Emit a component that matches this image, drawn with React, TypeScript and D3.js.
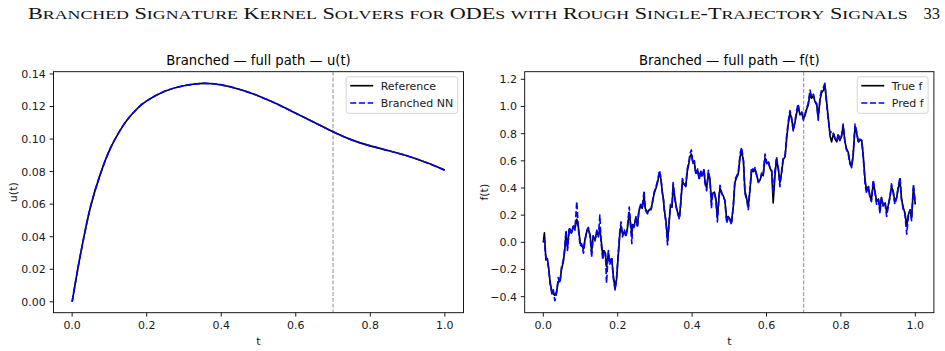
import React, { useEffect, useRef } from 'react';
import * as d3 from 'd3';

// page header
const headerTitle = 'Branched Signature Kernel Solvers for ODEs with Rough Single-Trajectory Signals';
const pageNumber = '33';

// u(t) over the full path
const uTimes = [0, 0.015, 0.03, 0.05, 0.075, 0.1, 0.125, 0.15, 0.175, 0.2, 0.25, 0.3, 0.35, 0.4, 0.45, 0.5, 0.55, 0.6, 0.65, 0.7, 0.75, 0.8, 0.85, 0.9, 0.95, 1.0];
const uReference = [0, 0.02, 0.038, 0.059, 0.078, 0.093, 0.104, 0.1125, 0.1188, 0.1235, 0.1295, 0.1328, 0.1342, 0.1333, 0.1305, 0.1265, 0.1215, 0.1158, 0.1102, 0.1045, 0.0995, 0.0958, 0.0928, 0.0896, 0.0856, 0.081];
const uBranched = [0, 0.02, 0.038, 0.059, 0.078, 0.093, 0.104, 0.1125, 0.1188, 0.1235, 0.1295, 0.1328, 0.1342, 0.1333, 0.1305, 0.1265, 0.1215, 0.1158, 0.1102, 0.1045, 0.0995, 0.0958, 0.0928, 0.0896, 0.0856, 0.0808];
const uTicks = [0, 0.02, 0.04, 0.06, 0.08, 0.10, 0.12, 0.14];

// f(t) driving signal, true vs predicted
const fTimes = [
  0.000, 0.003, 0.005, 0.007, 0.011, 0.015, 0.018, 0.023, 0.027, 0.031, 0.036, 0.040, 0.045, 0.049, 0.054, 0.058, 0.061, 0.065, 0.070, 0.076,
  0.081, 0.085, 0.090, 0.094, 0.099, 0.103, 0.108, 0.112, 0.117, 0.121, 0.126, 0.130, 0.134, 0.139, 0.144, 0.148, 0.152, 0.155, 0.160, 0.163,
  0.167, 0.170, 0.175, 0.179, 0.184, 0.188, 0.193, 0.197, 0.202, 0.206, 0.209, 0.213, 0.218, 0.222, 0.226, 0.231,
  0.238, 0.240, 0.244, 0.249, 0.253, 0.257, 0.262, 0.266, 0.271, 0.274, 0.280, 0.285, 0.290, 0.294, 0.298, 0.303, 0.308, 0.312, 0.316, 0.320,
  0.323, 0.325, 0.330, 0.334, 0.339, 0.342, 0.346, 0.349, 0.353, 0.357, 0.361, 0.366, 0.369, 0.374, 0.378, 0.383, 0.387, 0.392, 0.394, 0.398,
  0.402, 0.406, 0.410, 0.415, 0.419, 0.423, 0.427, 0.432, 0.435, 0.439, 0.444, 0.448, 0.452, 0.455, 0.460, 0.464, 0.468, 0.472, 0.475, 0.480,
  0.484, 0.488, 0.493, 0.497, 0.502, 0.506,
  0.511, 0.515, 0.520, 0.524, 0.529, 0.533, 0.538, 0.542, 0.547, 0.551, 0.556, 0.560, 0.565, 0.569, 0.574, 0.578, 0.583, 0.587, 0.591, 0.596,
  0.601, 0.605, 0.609, 0.614, 0.618, 0.623, 0.627, 0.632, 0.636, 0.641, 0.645, 0.650, 0.654, 0.659, 0.663, 0.667, 0.672, 0.677, 0.681, 0.685,
  0.690, 0.695, 0.699, 0.703, 0.708, 0.712, 0.717, 0.721, 0.726, 0.730, 0.735, 0.739, 0.744, 0.748, 0.753, 0.757, 0.761, 0.766, 0.771,
  0.775, 0.780, 0.784, 0.789, 0.793, 0.797, 0.802, 0.806, 0.811, 0.815, 0.820, 0.824, 0.829, 0.833, 0.838, 0.842, 0.847, 0.851, 0.856, 0.860,
  0.865, 0.869, 0.874, 0.878, 0.882, 0.887, 0.892, 0.896, 0.901, 0.905, 0.909, 0.914, 0.919, 0.923, 0.927, 0.932, 0.936, 0.941, 0.945, 0.950,
  0.954, 0.959, 0.963, 0.968, 0.972, 0.977, 0.981, 0.986, 0.990, 0.995, 1.000,
];
const fTrue = [
  0.00, 0.07, -0.03, -0.13, -0.12, -0.20, -0.29, -0.36, -0.38, -0.39, -0.36, -0.29, -0.28, -0.20, -0.14, -0.05, 0.07, -0.04, 0.10, 0.07,
  0.12, 0.10, 0.17, 0.12, 0.00, -0.02, -0.05, 0.02, 0.08, 0.10, 0.05, -0.07, 0.04, 0.02, 0.08, 0.05, 0.10, 0.03, -0.10, -0.06,
  -0.09, -0.18, -0.08, -0.14, -0.12, -0.24, -0.34, -0.27, -0.08, 0.07, 0.12, 0.06, 0.08, 0.05, 0.10, 0.22,
  0.06, 0.13, 0.12, 0.18, 0.12, 0.23, 0.27, 0.25, 0.34, 0.25, 0.22, 0.24, 0.25, 0.30, 0.36, 0.40, 0.45, 0.51, 0.47, 0.37,
  0.32, 0.25, 0.15, 0.01, 0.17, 0.27, 0.26, 0.42, 0.34, 0.27, 0.22, 0.19, 0.27, 0.45, 0.43, 0.41, 0.52, 0.59, 0.63, 0.65,
  0.59, 0.59, 0.51, 0.53, 0.47, 0.52, 0.49, 0.53, 0.44, 0.40, 0.51, 0.46, 0.30, 0.36, 0.37, 0.32, 0.18, 0.32, 0.40, 0.36,
  0.34, 0.31, 0.17, 0.19, 0.17, 0.15,
  0.27, 0.44, 0.48, 0.50, 0.63, 0.67, 0.60, 0.38, 0.32, 0.26, 0.40, 0.53, 0.52, 0.54, 0.49, 0.45, 0.46, 0.50, 0.49, 0.62,
  0.58, 0.59, 0.55, 0.52, 0.29, 0.50, 0.61, 0.54, 0.44, 0.52, 0.61, 0.63, 0.76, 0.88, 0.95, 0.92, 0.83, 0.89, 0.95, 1.00,
  0.94, 0.95, 0.91, 0.93, 0.98, 1.01, 1.09, 1.06, 1.08, 1.04, 1.01, 0.92, 1.05, 1.10, 1.12, 1.16, 1.05, 0.92, 0.78,
  0.74, 0.80, 0.76, 0.74, 0.79, 0.75, 0.78, 0.86, 0.74, 0.69, 0.66, 0.59, 0.56, 0.64, 0.85, 0.81, 0.74, 0.75, 0.75, 0.64,
  0.46, 0.38, 0.41, 0.34, 0.31, 0.44, 0.37, 0.30, 0.32, 0.24, 0.33, 0.27, 0.29, 0.22, 0.27, 0.34, 0.41, 0.37, 0.30, 0.33,
  0.40, 0.45, 0.32, 0.25, 0.22, 0.12, 0.20, 0.24, 0.18, 0.40, 0.28,
];
const fPred = [
  0.00, 0.02, -0.06, -0.11, -0.13, -0.21, -0.30, -0.38, -0.35, -0.43, -0.37, -0.26, -0.30, -0.18, -0.13, -0.03, 0.09, -0.06, 0.11, 0.06,
  0.13, 0.09, 0.30, 0.11, -0.03, -0.01, -0.08, 0.01, 0.09, 0.11, 0.04, -0.11, 0.05, 0.01, 0.09, 0.04, 0.20, 0.01, -0.13, -0.06,
  -0.08, -0.30, -0.06, -0.16, -0.11, -0.26, -0.35, -0.26, -0.06, 0.09, 0.15, 0.04, 0.09, 0.04, 0.11, 0.26,
  -0.01, 0.14, 0.11, 0.19, 0.11, 0.24, 0.28, 0.26, 0.38, 0.24, 0.21, 0.24, 0.24, 0.31, 0.37, 0.41, 0.46, 0.53, 0.48, 0.36,
  0.31, 0.24, 0.14, -0.02, 0.19, 0.28, 0.26, 0.44, 0.33, 0.26, 0.21, 0.17, 0.28, 0.47, 0.43, 0.42, 0.54, 0.60, 0.65, 0.68,
  0.58, 0.60, 0.50, 0.54, 0.46, 0.53, 0.48, 0.54, 0.43, 0.38, 0.53, 0.46, 0.25, 0.36, 0.36, 0.31, 0.15, 0.33, 0.42, 0.36,
  0.33, 0.31, 0.14, 0.19, 0.16, 0.13,
  0.28, 0.46, 0.49, 0.51, 0.65, 0.70, 0.60, 0.36, 0.31, 0.24, 0.41, 0.55, 0.53, 0.55, 0.49, 0.44, 0.46, 0.51, 0.49, 0.65,
  0.58, 0.60, 0.55, 0.53, 0.36, 0.53, 0.63, 0.53, 0.41, 0.53, 0.63, 0.64, 0.78, 0.90, 0.97, 0.92, 0.82, 0.90, 0.97, 1.02,
  0.94, 0.96, 0.90, 0.94, 0.99, 1.02, 1.12, 1.07, 1.09, 1.04, 1.02, 0.90, 1.07, 1.12, 1.14, 1.17, 1.04, 0.90, 0.80,
  0.82, 0.80, 0.77, 0.75, 0.80, 0.75, 0.79, 0.87, 0.73, 0.68, 0.65, 0.58, 0.55, 0.65, 0.87, 0.82, 0.73, 0.76, 0.75, 0.63,
  0.43, 0.36, 0.41, 0.33, 0.30, 0.46, 0.36, 0.28, 0.31, 0.21, 0.33, 0.26, 0.28, 0.19, 0.26, 0.33, 0.43, 0.36, 0.28, 0.33,
  0.41, 0.48, 0.31, 0.24, 0.21, 0.06, 0.19, 0.24, 0.16, 0.43, 0.28,
];
const fTicks = [-0.4, -0.2, 0.0, 0.2, 0.4, 0.6, 0.8, 1.0, 1.2];

const tTicks = [0, 0.2, 0.4, 0.6, 0.8, 1.0];
const splitTime = 0.7;

const W = 945;
const H = 351;
const FONT = 'DejaVu Sans, sans-serif';
const INK = '#1a1a1a';

interface Series {
  x: number[];
  y: number[];
  color: string;
  dash: string | null;
  label: string;
}

interface Panel {
  box: { x0: number; x1: number; y0: number; y1: number };
  yDomain: [number, number];
  yTicks: number[];
  yFormat: string;
  title: string;
  yLabel: string;
  yLabelX: number;
  series: Series[];
  curve: d3.CurveFactory;
}

const App: React.FC = () => {
  const svgRef = useRef<SVGSVGElement>(null);

  useEffect(() => {
    if (!svgRef.current) return;
    const svg = d3.select(svgRef.current);
    svg.selectAll('*').remove();

    svg.append('rect').attr('width', W).attr('height', H).attr('fill', '#fff');

    // running header in small caps
    const header = svg.append('text')
      .attr('font-family', 'Liberation Serif, serif')
      .attr('fill', '#111');
    for (const ch of headerTitle) {
      const small = ch !== ch.toUpperCase();
      header.append('tspan')
        .attr('font-size', small ? 13.2 : 16.4)
        .text(ch.toUpperCase());
    }
    const natural = (header.node() as SVGTextElement).getComputedTextLength();
    header.attr('transform', `translate(28,19) scale(${875 / natural},1)`);

    svg.append('text')
      .attr('x', 940).attr('y', 19)
      .attr('text-anchor', 'end')
      .attr('font-family', 'Liberation Serif, serif')
      .attr('font-size', 16.4)
      .attr('fill', '#111')
      .text(pageNumber);

    const panels: Panel[] = [
      {
        box: { x0: 53.5, x1: 463.5, y0: 71.7, y1: 312.7 },
        yDomain: [-0.0067, 0.1414],
        yTicks: uTicks,
        yFormat: '.2f',
        title: 'Branched — full path — u(t)',
        yLabel: 'u(t)',
        yLabelX: 13.5,
        series: [
          { x: uTimes, y: uReference, color: '#000000', dash: null, label: 'Reference' },
          { x: uTimes, y: uBranched, color: '#0000ff', dash: '6.1,2.6', label: 'Branched NN' },
        ],
        curve: d3.curveNatural,
      },
      {
        box: { x0: 524.7, x1: 933.9, y0: 71.7, y1: 312.7 },
        yDomain: [-0.518, 1.256],
        yTicks: fTicks,
        yFormat: '.1f',
        title: 'Branched — full path — f(t)',
        yLabel: 'f(t)',
        yLabelX: 484,
        series: [
          { x: fTimes, y: fTrue, color: '#000000', dash: null, label: 'True f' },
          { x: fTimes, y: fPred, color: '#0000ff', dash: '6.1,2.6', label: 'Pred f' },
        ],
        curve: d3.curveLinear,
      },
    ];

    panels.forEach((p) => {
      const { box } = p;
      const x = d3.scaleLinear().domain([-0.05, 1.05]).range([box.x0, box.x1]);
      const y = d3.scaleLinear().domain(p.yDomain).range([box.y1, box.y0]);
      const g = svg.append('g');

      // split marker
      g.append('line')
        .attr('x1', x(splitTime)).attr('x2', x(splitTime))
        .attr('y1', box.y0).attr('y2', box.y1)
        .attr('stroke', '#8c8c8c')
        .attr('stroke-width', 1)
        .attr('stroke-dasharray', '4,1.8');

      p.series.forEach((s) => {
        const pts: [number, number][] = s.x.map((t, i) => [x(t), y(s.y[i])]);
        const line = d3.line().curve(p.curve);
        g.append('path')
          .attr('d', line(pts))
          .attr('fill', 'none')
          .attr('stroke', s.color)
          .attr('stroke-width', 1.65)
          .attr('stroke-linejoin', 'round')
          .attr('stroke-dasharray', s.dash);
      });

      // frame
      g.append('rect')
        .attr('x', box.x0).attr('y', box.y0)
        .attr('width', box.x1 - box.x0).attr('height', box.y1 - box.y0)
        .attr('fill', 'none')
        .attr('stroke', '#000')
        .attr('stroke-width', 0.9);

      // x axis
      const fmtX = d3.format('.1f');
      tTicks.forEach((t) => {
        g.append('line')
          .attr('x1', x(t)).attr('x2', x(t))
          .attr('y1', box.y1).attr('y2', box.y1 + 3.9)
          .attr('stroke', '#000').attr('stroke-width', 0.9);
        g.append('text')
          .attr('x', x(t)).attr('y', box.y1 + 16.5)
          .attr('text-anchor', 'middle')
          .attr('font-family', FONT).attr('font-size', 11)
          .attr('fill', INK)
          .text(fmtX(t));
      });

      // y axis
      const fmtY = d3.format(p.yFormat);
      p.yTicks.forEach((v) => {
        g.append('line')
          .attr('x1', box.x0 - 3.9).attr('x2', box.x0)
          .attr('y1', y(v)).attr('y2', y(v))
          .attr('stroke', '#000').attr('stroke-width', 0.9);
        g.append('text')
          .attr('x', box.x0 - 7.7).attr('y', y(v))
          .attr('dy', '0.36em')
          .attr('text-anchor', 'end')
          .attr('font-family', FONT).attr('font-size', 11)
          .attr('fill', INK)
          .text(fmtY(v));
      });

      g.append('text')
        .attr('x', (box.x0 + box.x1) / 2).attr('y', 65)
        .attr('text-anchor', 'middle')
        .attr('font-family', FONT).attr('font-size', 13.2)
        .attr('fill', '#000')
        .text(p.title);

      g.append('text')
        .attr('x', (box.x0 + box.x1) / 2).attr('y', 345)
        .attr('text-anchor', 'middle')
        .attr('font-family', FONT).attr('font-size', 11)
        .attr('fill', INK)
        .text('t');

      g.append('text')
        .attr('transform', `translate(${p.yLabelX},${(box.y0 + box.y1) / 2}) rotate(-90)`)
        .attr('dy', '0.36em')
        .attr('text-anchor', 'middle')
        .attr('font-family', FONT).attr('font-size', 11)
        .attr('fill', INK)
        .text(p.yLabel);

      // legend, upper right
      const leg = g.append('g');
      const frame = leg.append('rect');
      const labels = p.series.map((s, i) => {
        const rowY = box.y0 + 14 + i * 17.3;
        leg.append('line')
          .attr('x1', 0).attr('x2', 23)
          .attr('y1', rowY).attr('y2', rowY)
          .attr('stroke', s.color)
          .attr('stroke-width', 1.65)
          .attr('stroke-dasharray', s.dash);
        return leg.append('text')
          .attr('x', 30.5).attr('y', rowY)
          .attr('dy', '0.36em')
          .attr('font-family', FONT).attr('font-size', 11)
          .attr('fill', INK)
          .text(s.label);
      });
      const textW = d3.max(labels, (l) => (l.node() as SVGTextElement).getComputedTextLength()) || 0;
      const legW = 4 + 30.5 + textW + 4.5;
      const legX = box.x1 - 5.8 - legW;
      frame
        .attr('x', -4).attr('y', box.y0 + 5)
        .attr('width', legW).attr('height', 36.6)
        .attr('rx', 2.5)
        .attr('fill', '#fff').attr('fill-opacity', 0.8)
        .attr('stroke', '#d0d0d0').attr('stroke-width', 0.9);
      leg.attr('transform', `translate(${legX + 4},0)`);
    });
  }, []);

  return (
    <svg
      ref={svgRef}
      width={W}
      height={H}
      style={{ position: 'absolute', left: 0, top: 0 }}
    />
  );
};

export default App;
